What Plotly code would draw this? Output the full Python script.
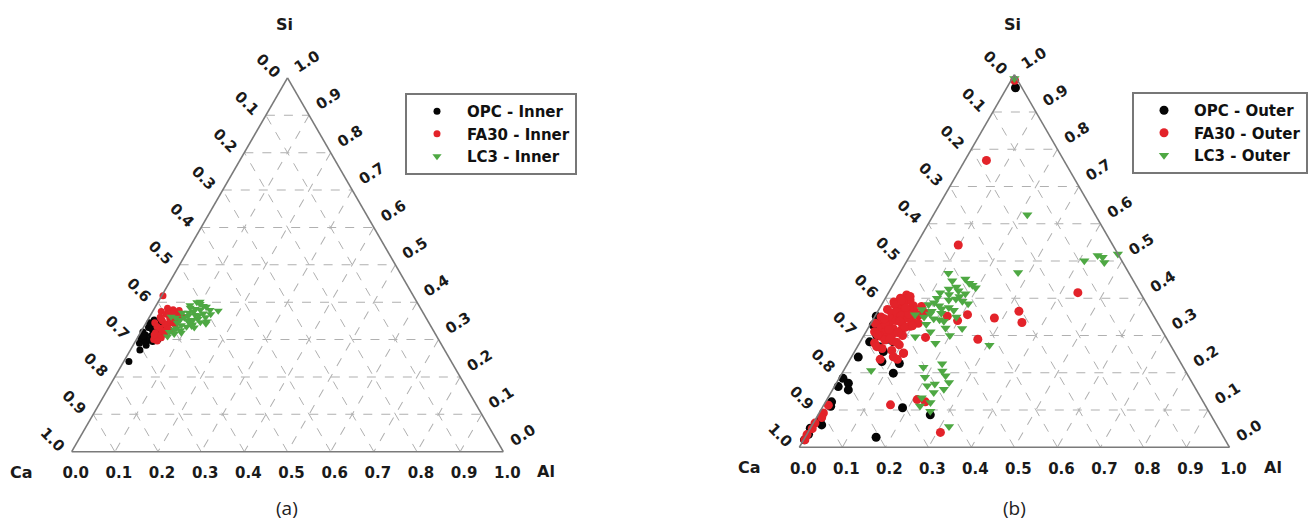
import plotly.graph_objects as go

# ---------------- data (Si = a, Al = c, Ca = 1 - Si - Al) ----------------
# panel (a) : inner products
si_opc_in = [0.241, 0.272, 0.285, 0.290, 0.295, 0.300, 0.305, 0.310, 0.312, 0.318, 0.320,
             0.325, 0.328, 0.332, 0.336, 0.340, 0.345, 0.348, 0.352, 0.300, 0.292, 0.315,
             0.330, 0.322, 0.310, 0.338, 0.298]
al_opc_in = [0.012, 0.022, 0.030, 0.012, 0.040, 0.020, 0.008, 0.030, 0.015, 0.045, 0.005,
             0.025, 0.038, 0.012, 0.030, 0.018, 0.008, 0.028, 0.015, 0.050, 0.025, 0.052,
             0.020, 0.035, 0.010, 0.040, 0.032]

si_fa_in = [0.417, 0.384, 0.380, 0.375, 0.372, 0.368, 0.365, 0.360, 0.358, 0.355, 0.350,
            0.348, 0.345, 0.342, 0.340, 0.335, 0.333, 0.330, 0.325, 0.322, 0.318, 0.315,
            0.310, 0.305, 0.300, 0.296, 0.378, 0.362,
            0.370, 0.355, 0.345, 0.338, 0.328, 0.320, 0.312, 0.352, 0.362, 0.375]
al_fa_in = [0.003, 0.030, 0.045, 0.020, 0.055, 0.035, 0.062, 0.025, 0.048, 0.068, 0.035,
            0.058, 0.020, 0.045, 0.070, 0.030, 0.055, 0.040, 0.065, 0.048, 0.035, 0.058,
            0.045, 0.055, 0.040, 0.050, 0.060, 0.075,
            0.040, 0.030, 0.060, 0.050, 0.060, 0.055, 0.035, 0.052, 0.050, 0.050]

si_lc3_in = [0.308, 0.315, 0.320, 0.325, 0.330, 0.334, 0.338, 0.340, 0.345, 0.346, 0.348,
             0.350, 0.352, 0.355, 0.358, 0.360, 0.361, 0.363, 0.366, 0.370, 0.372, 0.375,
             0.377, 0.379, 0.380, 0.385, 0.388, 0.392, 0.395, 0.400, 0.401, 0.342, 0.332, 0.368,
             0.352, 0.358, 0.365, 0.372, 0.382, 0.390, 0.345, 0.336, 0.326, 0.318]
al_lc3_in = [0.068, 0.080, 0.066, 0.090, 0.078, 0.099, 0.085, 0.110, 0.072, 0.125, 0.139,
             0.095, 0.075, 0.115, 0.062, 0.130, 0.050, 0.088, 0.103, 0.120, 0.070, 0.095,
             0.151, 0.131, 0.108, 0.082, 0.118, 0.078, 0.100, 0.090, 0.097, 0.140, 0.118, 0.138,
             0.105, 0.082, 0.112, 0.085, 0.095, 0.110, 0.100, 0.110, 0.075, 0.095]

# panel (b) : outer products
si_opc_out = [0.965, 0.352, 0.340, 0.328, 0.315, 0.300, 0.283, 0.283, 0.290, 0.257, 0.242,
              0.230, 0.225, 0.199, 0.185, 0.172, 0.163, 0.154, 0.122, 0.110, 0.075, 0.060,
              0.051, 0.035, 0.020, 0.106, 0.087, 0.027, 0.310, 0.270]
al_opc_out = [0.020, 0.003, 0.020, 0.008, 0.045, 0.030, 0.022, 0.077, 0.060, 0.067, 0.016,
              0.077, 0.120, 0.119, 0.009, 0.028, 0.009, 0.037, 0.014, 0.018, 0.012, 0.022,
              0.000, 0.004, 0.002, 0.187, 0.261, 0.165, 0.055, 0.050]

si_fa_out = [0.985, 0.770, 0.543, 0.415, 0.365, 0.347, 0.335, 0.356, 0.340, 0.352, 0.290,
             0.295, 0.253, 0.236, 0.236, 0.114, 0.128, 0.122, 0.040, 0.113, 0.092, 0.065,
             0.034, 0.020, 0.050, 0.080,
             0.409, 0.400, 0.395, 0.390, 0.385, 0.380, 0.375, 0.370, 0.368, 0.365, 0.360,
             0.358, 0.355, 0.350, 0.348, 0.345, 0.342, 0.340, 0.336, 0.333, 0.333, 0.330,
             0.328, 0.325, 0.320, 0.318, 0.315, 0.312, 0.310, 0.305, 0.300, 0.298, 0.295,
             0.288, 0.285, 0.280, 0.275, 0.265, 0.260, 0.252, 0.243, 0.270, 0.362, 0.378,
             0.405, 0.392, 0.383, 0.372, 0.363, 0.353, 0.346, 0.338, 0.330, 0.322, 0.316,
             0.308, 0.302, 0.292, 0.282, 0.345, 0.358, 0.375, 0.395, 0.326]
al_fa_out = [0.008, 0.050, 0.098, 0.440, 0.328, 0.280, 0.350, 0.213, 0.198, 0.168, 0.270,
             0.146, 0.116, 0.110, 0.070, 0.155, 0.210, 0.232, 0.308, 0.011, 0.010, 0.004,
             0.001, 0.003, 0.005, 0.012,
             0.045, 0.035, 0.060, 0.025, 0.050, 0.075, 0.040, 0.020, 0.060, 0.085, 0.035,
             0.050, 0.100, 0.015, 0.070, 0.040, 0.090, 0.055, 0.025, 0.110, 0.010, 0.075,
             0.045, 0.095, 0.030, 0.060, 0.080, 0.045, 0.020, 0.065, 0.090, 0.040, 0.055,
             0.055, 0.075, 0.035, 0.095, 0.060, 0.085, 0.116, 0.097, 0.045, 0.110, 0.095,
             0.055, 0.045, 0.030, 0.070, 0.045, 0.060, 0.080, 0.065, 0.035, 0.085, 0.050,
             0.075, 0.030, 0.065, 0.085, 0.025, 0.075, 0.060, 0.040, 0.100]

si_lc3_out = [0.990, 0.624, 0.469, 0.501, 0.515, 0.496, 0.519, 0.505, 0.510, 0.467,
              0.383, 0.410, 0.428, 0.447, 0.392, 0.356, 0.338, 0.319, 0.297, 0.279, 0.274,
              0.400, 0.395, 0.420, 0.415, 0.405, 0.380, 0.375, 0.370, 0.365, 0.360, 0.350,
              0.345, 0.430, 0.440, 0.385, 0.350, 0.330, 0.320, 0.310, 0.300,
              0.215, 0.224, 0.188, 0.192, 0.156, 0.147, 0.133, 0.111, 0.097, 0.056, 0.206,
              0.174, 0.170, 0.120, 0.205, 0.165,
              0.425, 0.412, 0.398, 0.388, 0.372, 0.358, 0.342, 0.452, 0.435, 0.368]
al_lc3_out = [0.005, 0.218, 0.274, 0.412, 0.436, 0.461, 0.481, 0.496, 0.450, 0.113,
              0.109, 0.143, 0.196, 0.132, 0.183, 0.091, 0.167, 0.219, 0.121, 0.177, 0.305,
              0.120, 0.150, 0.160, 0.120, 0.170, 0.135, 0.160, 0.100, 0.125, 0.150, 0.115,
              0.140, 0.150, 0.175, 0.200, 0.190, 0.130, 0.180, 0.150, 0.200,
              0.181, 0.220, 0.198, 0.244, 0.258, 0.239, 0.218, 0.225, 0.256, 0.320, 0.064,
              0.261, 0.230, 0.245, 0.230, 0.215,
              0.135, 0.180, 0.165, 0.120, 0.145, 0.125, 0.155, 0.160, 0.185, 0.175]

tick_vals = [0.0, 0.1, 0.2, 0.3, 0.4, 0.5, 0.6, 0.7, 0.8, 0.9, 1.0]
tick_text = ["1.0", "0.9", "0.8", "0.7", "0.6", "0.5", "0.4", "0.3", "0.2", "0.1", "0.0"]

W, H = 1315, 523
BLACK, RED, GREEN = "#050505", "#e3232a", "#4ea843"
TFONT = "DejaVu Sans"

fig = go.Figure()


def add(si, al, name, color, symbol, size, subplot, legend):
    fig.add_trace(go.Scatterternary(
        a=si, c=al, mode="markers", name=name, subplot=subplot, legend=legend,
        cliponaxis=False,
        marker=dict(color=color, symbol=symbol, size=size, line=dict(width=0))))


add(si_opc_in, al_opc_in, "OPC - Inner", BLACK, "circle", 7, "ternary", "legend")
add(si_fa_in, al_fa_in, "FA30 - Inner", RED, "circle", 7, "ternary", "legend")
add(si_lc3_in, al_lc3_in, "LC3 - Inner", GREEN, "triangle-down", 8, "ternary", "legend")
add(si_opc_out, al_opc_out, "OPC - Outer", BLACK, "circle", 9, "ternary2", "legend2")
add(si_fa_out, al_fa_out, "FA30 - Outer", RED, "circle", 9, "ternary2", "legend2")
add(si_lc3_out, al_lc3_out, "LC3 - Outer", GREEN, "triangle-down", 9, "ternary2", "legend2")


def axis(angle, tlen):
    return dict(
        tickmode="array", tickvals=tick_vals, ticktext=tick_text,
        ticks="outside", ticklen=tlen, tickcolor="rgba(0,0,0,0)", tickwidth=1,
        tickangle=angle,
        linecolor="#7a7a7a", linewidth=1.6,
        showgrid=True, gridcolor="#b0b0b0", gridwidth=1, griddash="dash",
        tickfont=dict(family=TFONT, size=15, color="#1a1a1a", weight="bold"),
        title=dict(text=""))


def tern(x0, x1, yc):
    return dict(
        domain=dict(x=[x0 / W, x1 / W], y=[yc - 0.42, yc + 0.42]),
        bgcolor="white", sum=1,
        aaxis=axis(45, 5), baxis=axis(0, 8), caxis=axis(-33, 8))


fig.update_layout(
    width=W, height=H, margin=dict(l=0, r=0, t=0, b=0),
    paper_bgcolor="white", plot_bgcolor="white",
    ternary=tern(71.7, 503.3, (H - 264.8) / H),
    ternary2=tern(799.3, 1229.5, (H - 261.0) / H),
    legend=dict(x=405 / W, y=1 - 93 / H, xanchor="left", yanchor="top",
                bordercolor="#777", borderwidth=2, bgcolor="white",
                font=dict(family=TFONT, size=15, color="#111", weight="bold"),
                itemwidth=50),
    legend2=dict(x=1132 / W, y=1 - 92 / H, xanchor="left", yanchor="top",
                 bordercolor="#777", borderwidth=2, bgcolor="white",
                 font=dict(family=TFONT, size=15, color="#111", weight="bold"),
                 itemwidth=50),
    showlegend=True,
)

title_font = dict(family=TFONT, size=16, color="#1a1a1a", weight="bold")
for txt, px, py in [("Si", 284, 24), ("Ca", 21, 472), ("Al", 546, 471),
                    ("Si", 1012, 24), ("Ca", 749, 467), ("Al", 1273, 467)]:
    fig.add_annotation(text=txt, x=px / W, y=1 - py / H, xref="paper", yref="paper",
                       showarrow=False, xanchor="center", yanchor="middle", font=title_font)

for txt, px in [("(a)", 287), ("(b)", 1014)]:
    fig.add_annotation(text=txt, x=px / W, y=1 - 508 / H, xref="paper", yref="paper",
                       showarrow=False, xanchor="center", yanchor="middle",
                       font=dict(family="Open Sans", size=19, color="#222"))

fig.write_html("out.html")
